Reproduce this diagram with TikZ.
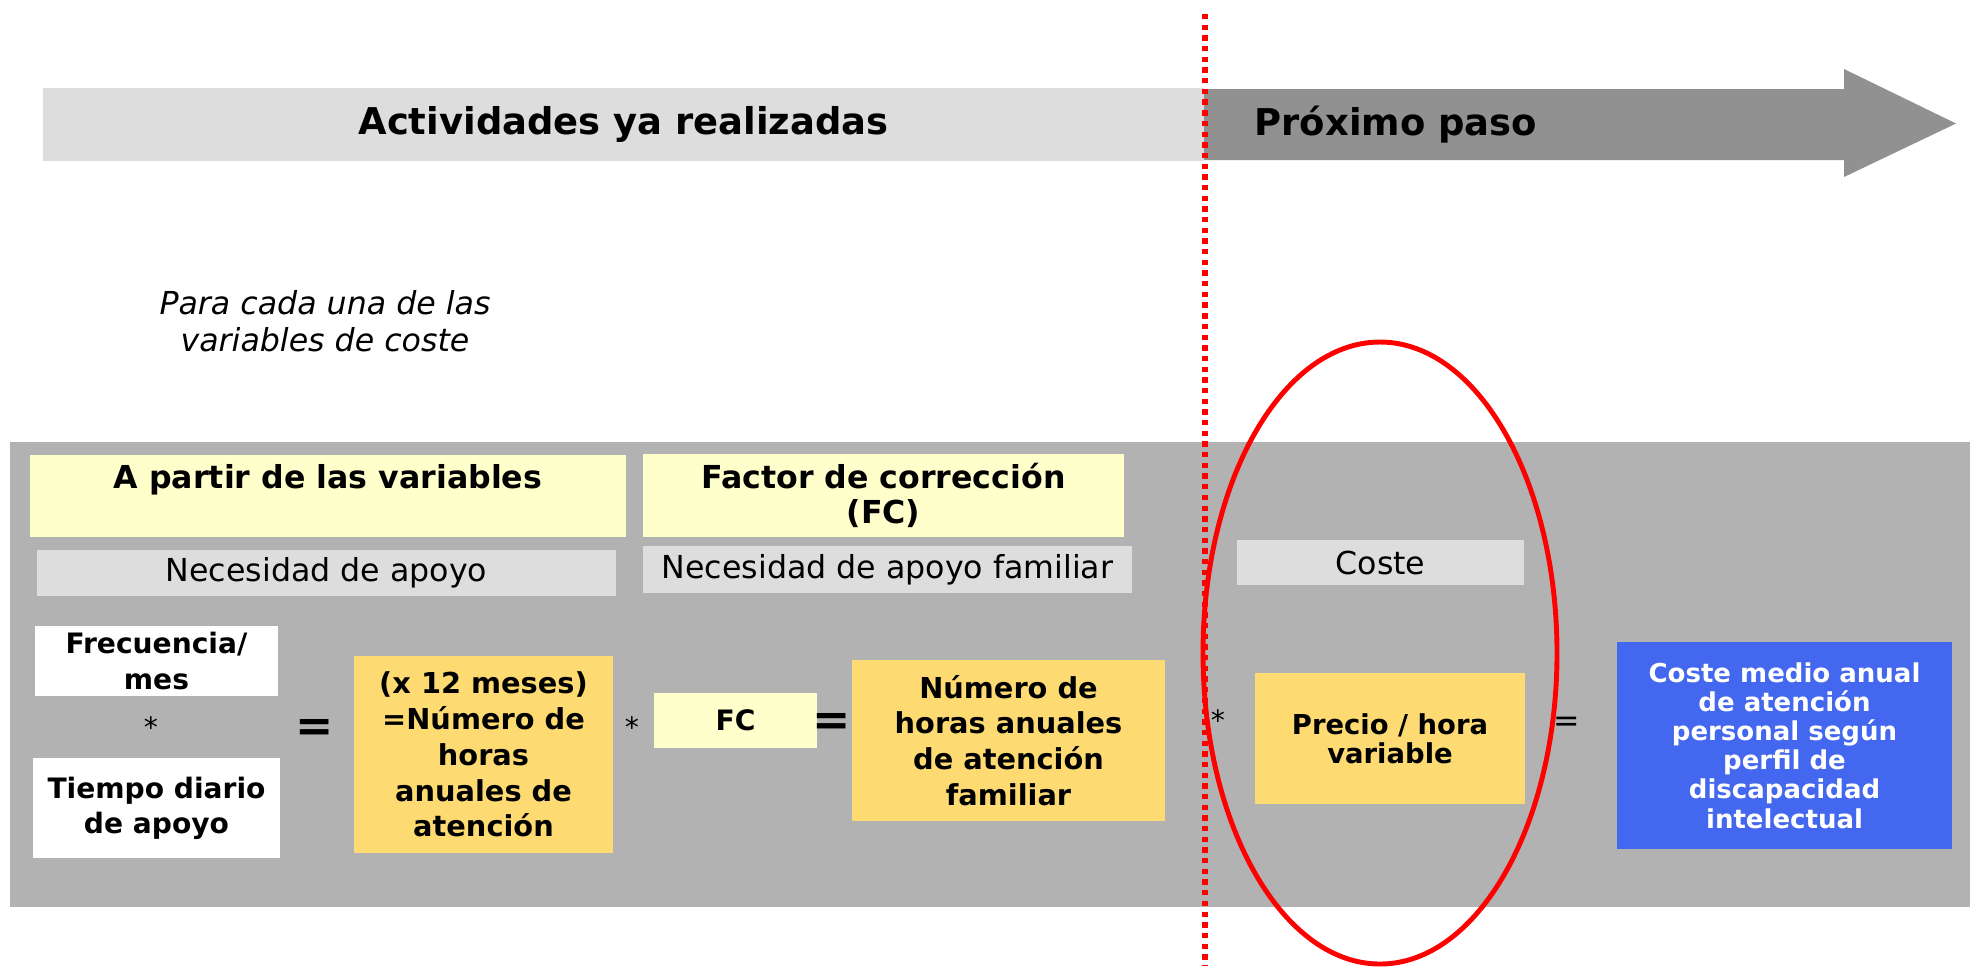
\documentclass[tikz,border=0pt]{standalone}
\usepackage{fontspec}
\setmainfont{DejaVu Sans}
\definecolor{bandgray}{HTML}{DDDDDD}
\definecolor{arrowgray}{HTML}{919191}
\definecolor{panelgray}{HTML}{B2B2B2}
\definecolor{paleyellow}{HTML}{FFFFCC}
\definecolor{gold}{HTML}{FDDB72}
\definecolor{royal}{HTML}{4367EE}
\tikzset{
  tag/.style 2 args={minimum width=#1cm, minimum height=#2cm, inner sep=0pt, align=center},
  titlebox/.style={fill=paleyellow, font=\bfseries\fontsize{9}{10}\selectfont},
  subbox/.style={fill=bandgray, font=\fontsize{9}{10}\selectfont},
  inbox/.style={fill=white, font=\bfseries\fontsize{8}{10}\selectfont},
  goldbox/.style={fill=gold, font=\bfseries\fontsize{8.2}{10.2}\selectfont},
  opsign/.style={inner sep=0pt, font=\fontsize{8}{10}\selectfont},
  bigeq/.style={inner sep=0pt, font=\bfseries\fontsize{13}{13}\selectfont}
}
\begin{document}
\begin{tikzpicture}
\useasboundingbox (0,0) rectangle (19.70,-9.66);
\node[tag={11.61}{0.73}, fill=bandgray, font=\bfseries\fontsize{10.5}{12}\selectfont] (done) at (6.235,-1.245) {Actividades ya realizadas};
\fill[arrowgray] (12.04,-0.89) -- (18.44,-0.89) -- (18.44,-0.69) -- (19.56,-1.235) -- (18.44,-1.77) -- (18.44,-1.60) -- (12.04,-1.60) -- cycle;
\node[inner sep=0pt, anchor=west, font=\bfseries\fontsize{10.5}{12}\selectfont] (next) at (12.54,-1.245) {Próximo paso};
\node[inner sep=0pt, align=center, font=\itshape\fontsize{9}{10.4}\selectfont] (note) at (3.25,-3.21) {Para cada una de las\\variables de coste};
\fill[panelgray] (0.10,-4.42) rectangle (19.70,-9.07);
\node[tag={5.96}{0.82}, titlebox] (vars) at (3.28,-4.96) {A partir de las variables\\\phantom{(FC)}};
\node[tag={4.81}{0.83}, titlebox] (factor) at (8.835,-4.955) {Factor de corrección\\(FC)};
\node[tag={5.79}{0.46}, subbox] (need) at (3.265,-5.73) {Necesidad de apoyo};
\node[tag={4.89}{0.47}, subbox] (needfam) at (8.875,-5.695) {Necesidad de apoyo familiar};
\node[tag={2.87}{0.45}, subbox] (cost) at (13.805,-5.625) {Coste};
\node[tag={2.43}{0.70}, inbox] (freq) at (1.565,-6.61) {Frecuencia/\\mes};
\node[tag={2.47}{1.00}, inbox] (time) at (1.565,-8.08) {Tiempo diario\\de apoyo};
\node[opsign] (times1) at (1.51,-7.27) {*};
\node[bigeq] (eq1) at (3.15,-7.30) {=};
\node[tag={2.59}{1.97}, goldbox] (hours) at (4.835,-7.545) {(x 12 meses)\\=Número de\\horas\\anuales de\\atención};
\node[opsign] (times2) at (6.32,-7.27) {*};
\node[tag={1.63}{0.55}, inbox, fill=paleyellow] (fc) at (7.355,-7.205) {FC};
\node[bigeq] (eq2) at (8.32,-7.24) {=};
\node[tag={3.13}{1.61}, goldbox] (famhours) at (10.085,-7.405) {Número de\\horas anuales\\de atención\\familiar};
\node[opsign] (times3) at (12.18,-7.20) {*};
\node[tag={2.70}{1.31}, fill=gold, font=\bfseries\fontsize{7.8}{8.3}\selectfont] (price) at (13.90,-7.385) {Precio / hora\\variable};
\node[opsign, font=\fontsize{9}{10}\selectfont] (eq3) at (15.67,-7.24) {=};
\node[tag={3.35}{2.07}, fill=royal, text=white, font=\bfseries\fontsize{7.4}{8.3}\selectfont] (result) at (17.845,-7.455) {Coste medio anual\\de atención\\personal según\\perfil de\\discapacidad\\intelectual};
\coordinate (ring) at (13.80,-6.53);
\draw[red, line width=1.4pt] (ring) ellipse [x radius=1.77, y radius=3.11];
\coordinate (cuttop) at (12.05,-0.14);
\coordinate (cutbot) at (12.05,-9.66);
\draw[red, line width=1.7pt, dash pattern=on 1.52pt off 1.52pt] (cuttop) -- (cutbot);
\end{tikzpicture}
\end{document}
